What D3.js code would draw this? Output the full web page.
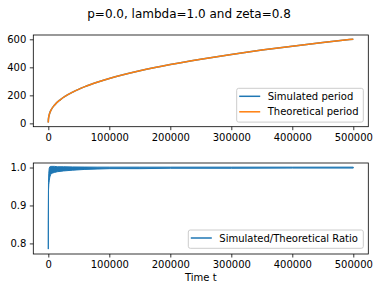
<!DOCTYPE html>
<html>
<head>
<meta charset="utf-8">
<script src="https://cdn.jsdelivr.net/npm/d3@7"></script>
<style>
  body { margin: 0; background: #fff; }
  text { font-family: "DejaVu Sans", sans-serif; }
</style>
</head>
<body>
<div id="chart"></div>
<script>
// period vs time
const timeSteps = [0, 100, 500, 1000, 2000, 5000, 10000, 20000, 40000, 60000, 80000,
                   100000, 150000, 200000, 250000, 300000, 350000, 400000, 450000, 500000];
const simulatedPeriod = [6, 21, 40, 52, 69, 99, 130, 170, 223, 262, 293,
                         320, 375, 420, 458, 492, 523, 551, 577, 601];
const theoreticalPeriod = [6, 21, 40, 53, 69, 99, 130, 170, 223, 262, 293,
                           320, 375, 420, 458, 492, 523, 551, 577, 601];

// ratio band: upper / lower envelope of the noisy ratio line
const ratioTime = [0, 300, 800, 1500, 2500, 4000, 6000, 10000, 15000, 25000, 40000,
                   60000, 80000, 100000, 150000, 200000, 300000, 400000, 500000];
const ratioUpper = [0.86, 0.96, 0.985, 0.998, 1.002, 1.003, 1.003, 1.003, 1.002, 1.002, 1.0015,
                    1.0012, 1.001, 1.001, 1.001, 1.001, 1.001, 1.001, 1.001];
const ratioLower = [0.785, 0.94, 0.955, 0.965, 0.975, 0.982, 0.985, 0.987, 0.989, 0.991, 0.993,
                    0.995, 0.996, 0.997, 0.997, 0.998, 0.998, 0.9985, 0.9985];

const xTicks = [0, 100000, 200000, 300000, 400000, 500000];
const periodTicks = [0, 200, 400, 600];
const ratioTicks = [0.8, 0.9, 1.0];

const blue = "#1f77b4", orange = "#ff7f0e";
const W = 378, H = 291;
const left = 33.3, right = 368.3;

const svg = d3.select("#chart").append("svg")
  .attr("width", W).attr("height", H);

svg.append("text")
  .attr("x", W / 2).attr("y", 17.5)
  .attr("text-anchor", "middle")
  .attr("font-size", "12px")
  .text("p=0.0, lambda=1.0 and zeta=0.8");

const x = d3.scaleLinear().domain([-24600, 524600]).range([left, right]);

function drawAxes(g, y, top, bottom, yTicks, yFmt) {
  g.append("g")
    .attr("transform", `translate(0,${bottom})`)
    .call(d3.axisBottom(x).tickValues(xTicks).tickFormat(d3.format("d")).tickSize(3.5).tickPadding(3.5))
    .call(a => a.select(".domain").remove());
  g.append("g")
    .attr("transform", `translate(${left},0)`)
    .call(d3.axisLeft(y).tickValues(yTicks).tickFormat(yFmt).tickSize(3.5).tickPadding(3.5))
    .call(a => a.select(".domain").remove());
  g.selectAll(".tick line").attr("stroke", "#000").attr("stroke-width", 0.8);
  g.selectAll(".tick text").attr("font-size", "10px").attr("fill", "#000")
    .style("font-family", "DejaVu Sans, sans-serif");
  g.append("rect")
    .attr("x", left).attr("y", top)
    .attr("width", right - left).attr("height", bottom - top)
    .attr("fill", "none").attr("stroke", "#000").attr("stroke-width", 0.8);
}

function legend(g, x0, y0, w, items) {
  const h = 18.3 + (items.length - 1) * 15.5;
  g.append("rect")
    .attr("x", x0).attr("y", y0).attr("width", w).attr("height", h)
    .attr("rx", 2).attr("fill", "#fff").attr("fill-opacity", 0.8)
    .attr("stroke", "#cccccc").attr("stroke-width", 1);
  items.forEach((it, i) => {
    const cy = y0 + 8 + i * 15.5;
    g.append("line")
      .attr("x1", x0 + 2.5).attr("x2", x0 + 23.5)
      .attr("y1", cy).attr("y2", cy)
      .attr("stroke", it.color).attr("stroke-width", 1.5);
    g.append("text")
      .attr("x", x0 + 31).attr("y", cy + 3.6)
      .attr("font-size", "10px")
      .text(it.label);
  });
}

// top panel
const top1 = 35, bot1 = 126.7;
const y1 = d3.scaleLinear().domain([-23.75, 630.75]).range([bot1, top1]);
const g1 = svg.append("g");
const periodLine = v => d3.line()
  .x((d, i) => x(timeSteps[i]))
  .y(d => y1(d))
  .curve(d3.curveMonotoneX)(v);

g1.append("path").attr("d", periodLine(simulatedPeriod))
  .attr("fill", "none").attr("stroke", blue).attr("stroke-width", 1.5);
g1.append("path").attr("d", periodLine(theoreticalPeriod))
  .attr("fill", "none").attr("stroke", orange).attr("stroke-width", 1.5);
drawAxes(g1, y1, top1, bot1, periodTicks, d3.format("d"));
legend(g1, 236.7, 88.3, 126.6, [
  {label: "Simulated period", color: blue},
  {label: "Theoretical period", color: orange}
]);

// bottom panel
const top2 = 163, bot2 = 254;
const y2 = d3.scaleLinear().domain([0.7721, 1.0119]).range([bot2, top2]);
const g2 = svg.append("g");
const band = d3.area()
  .x((d, i) => x(ratioTime[i]))
  .y0((d, i) => y2(ratioLower[i]))
  .y1((d, i) => y2(ratioUpper[i]));
g2.append("path").attr("d", band(ratioTime))
  .attr("fill", blue).attr("stroke", blue).attr("stroke-width", 1)
  .attr("stroke-linejoin", "round");
drawAxes(g2, y2, top2, bot2, ratioTicks, d3.format(".1f"));
legend(g2, 188.3, 230, 175, [
  {label: "Simulated/Theoretical Ratio", color: blue}
]);

svg.append("text")
  .attr("x", (left + right) / 2).attr("y", 281)
  .attr("text-anchor", "middle")
  .attr("font-size", "10px")
  .text("Time t");
</script>
</body>
</html>
